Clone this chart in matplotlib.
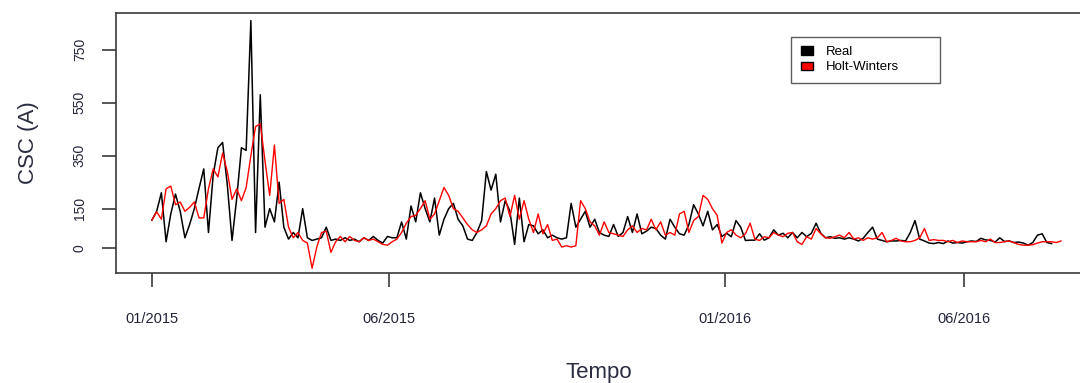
import numpy as np
import pandas as pd
import matplotlib
matplotlib.use("Agg")
import matplotlib.pyplot as plt
from matplotlib.patches import Patch

plt.rcParams['font.family'] = ['Liberation Sans', 'DejaVu Sans']

# Series values, one value every 3 days starting 01/01/2015
real = [
    107, 140, 210, 25, 130, 205, 140, 40, 90, 150, 227, 300, 60, 277, 380, 400, 240,
    30, 190, 380, 370, 860, 60, 580, 80, 150, 100, 250, 80, 35, 60, 40, 150, 40,
    30, 35, 40, 80, 30, 35, 30, 40, 30, 35, 25, 40, 30, 45, 30,
    20, 45, 40, 40, 100, 35, 160, 100, 210, 150, 100, 190, 50, 110, 150, 170, 110,
    85, 35, 30, 60, 105, 290, 220,
    280, 100, 180, 140, 15, 190, 25, 90, 85, 55, 70, 40, 50, 40, 35, 40, 170, 80,
    110, 140, 80, 110, 60, 50, 45,
    90, 45, 60, 120, 60, 130, 55, 65, 80, 75, 50, 35, 110, 80, 55, 50, 90, 165, 130,
    85, 140, 70, 90, 45,
    57, 44, 105, 80, 30, 31, 31, 55, 31, 40, 70, 50, 57, 40, 60, 40, 60, 44, 57, 95,
    57, 40, 44, 38,
    40, 35, 40, 35, 28, 38, 60, 80, 35, 30, 25, 28, 28, 30, 28, 60, 105, 35, 28, 20,
    18, 22, 18, 28, 20,
    22, 20, 25, 28, 26, 38, 32, 30, 24, 40, 26, 28, 22, 24, 20, 12, 22, 50, 55, 22, 18,
]

holt_winters = [
    107, 138, 110, 225, 235, 165, 175, 140, 155, 175, 115, 115, 225, 300, 270, 360,
    290, 185, 225, 180, 230, 350, 460, 470, 330, 200, 390, 170, 185, 80, 40, 60, 30, 20,
    -75, 5, 60, 65, -15, 25, 45, 25, 45, 30, 25, 40, 30, 35, 25,
    15, 12, 25, 35, 60, 95, 120, 125, 150, 180, 110, 130, 180, 230, 200, 150, 140,
    115, 90, 70, 60, 70, 85, 130,
    150, 180, 190, 120, 200, 110, 180, 110, 60, 130, 55, 90, 30, 35, 5, 10, 5, 10,
    180, 150, 100, 85, 50, 100, 60,
    55, 50, 45, 70, 85, 60, 75, 70, 110, 70, 100, 50, 60, 50, 130, 140, 60, 105, 120,
    200, 185, 150, 125, 20,
    60, 70, 50, 40, 55, 95, 35, 30, 44, 40, 60, 50, 44, 57, 60, 25, 15, 44, 35, 75,
    55, 40, 38, 44,
    50, 40, 60, 35, 40, 30, 40, 35, 40, 60, 25, 30, 38, 28, 25, 25, 30, 40, 75, 30,
    33, 30, 30, 25, 30,
    22, 28, 25, 25, 25, 30, 25, 35, 22, 22, 25, 28, 22, 15, 12, 12, 14, 20, 25, 25,
    25, 22, 28,
]

series_labels = ['Real', 'Holt-Winters']
y_ticks = [0, 150, 350, 550, 750]
x_tick_dates = ['2015-01-01', '2015-06-01', '2016-01-01', '2016-06-01']
x_tick_labels = ['01/2015', '06/2015', '01/2016', '06/2016']

start = pd.Timestamp('2015-01-01')
real_dates = pd.date_range(start, periods=len(real), freq='3D')
hw_dates = pd.date_range(start, periods=len(holt_winters), freq='3D')

fig = plt.figure(figsize=(10.8, 3.83), dpi=100)
ax = fig.add_axes([0.1074, 0.2872, 0.8945, 0.679])

ax.plot(real_dates, real, color='black', lw=1.1)
ax.plot(hw_dates, holt_winters, color='red', lw=1.0)

ax.set_xlim(start - pd.Timedelta(days=22.9), start + pd.Timedelta(days=592.4))
ax.set_ylim(-93, 889)

# R-style box and ticks
spine_col = '#3a3a3a'
for s in ax.spines.values():
    s.set_color(spine_col)
    s.set_linewidth(1.2)

ax.set_yticks(y_ticks)
ax.set_yticklabels([str(v) for v in y_ticks], rotation=90, va='center')
ax.set_xticks(pd.to_datetime(x_tick_dates))
ax.set_xticklabels(x_tick_labels)
ax.tick_params(axis='y', length=10, width=1.2, color=spine_col, pad=11,
               labelsize=10, labelcolor='#22253a')
ax.tick_params(axis='x', length=10, width=1.2, color=spine_col, pad=18,
               labelsize=10.5, labelcolor='#22253a')

ax.set_ylabel('CSC (A)', fontsize=16, color='#2a2d40', labelpad=24)
ax.set_xlabel('Tempo', fontsize=16, color='#2a2d40', labelpad=26)

handles = [Patch(facecolor='black', edgecolor='black'),
           Patch(facecolor='red', edgecolor='black')]
leg = ax.legend(handles, series_labels, loc='upper left',
                bbox_to_anchor=(0.699, 0.7115, 0.154, 0.1965), mode='expand',
                borderaxespad=0, fontsize=9.5, frameon=True, fancybox=False,
                edgecolor='#333333', handlelength=0.95, handleheight=0.6,
                handletextpad=1.0, labelspacing=0.25, borderpad=0.7)
leg.get_frame().set_linewidth(1.0)

fig.savefig('out.png', dpi=100)
